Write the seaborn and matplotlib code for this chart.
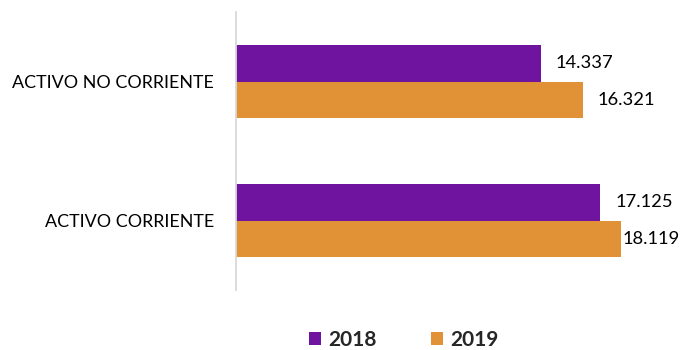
import matplotlib
matplotlib.use("Agg")
import matplotlib.pyplot as plt
import seaborn as sns
import pandas as pd
from matplotlib.patches import Patch

categories = ["ACTIVO NO CORRIENTE", "ACTIVO CORRIENTE"]
years = ["2018", "2019"]
values_2018 = [14337, 17125]
values_2019 = [16321, 18119]

colors = {"2018": "#6F149E", "2019": "#E29236"}

df = pd.DataFrame({
    "categoria": categories * 2,
    "anio": [years[0]] * len(categories) + [years[1]] * len(categories),
    "valor": values_2018 + values_2019,
})

sns.set_theme(style="white")
plt.rcParams["font.family"] = ["Lato", "DejaVu Sans"]

fig = plt.figure(figsize=(6.83, 3.5), dpi=100)
ax = fig.add_axes([0.3455, 0.1714, 0.6222, 0.7943])

sns.barplot(data=df, y="categoria", x="valor", hue="anio", order=categories,
            hue_order=years, palette=colors, orient="h", width=0.52,
            saturation=1, linewidth=0, ax=ax, legend=False)

ax.set_xlim(0, 20000)
ax.set_ylim(1.5, -0.5)
ax.set_xlabel("")
ax.set_ylabel("")
ax.set_xticks([])
for s in ["top", "right", "bottom"]:
    ax.spines[s].set_visible(False)
ax.spines["left"].set_color("#D9D9D9")
ax.spines["left"].set_linewidth(1.3)
ax.tick_params(axis="y", length=0, pad=16, labelsize=12.9, labelcolor="#000000")

# value labels next to each bar
for container in ax.containers:
    for bar in container:
        v = bar.get_width()
        txt = f"{int(round(v)):,}".replace(",", ".")
        off = 1 if v >= 18000 else 11
        ax.annotate(txt, xy=(v, bar.get_y() + bar.get_height() / 2),
                    xytext=(off, 0), textcoords="offset points",
                    ha="left", va="center", fontsize=13.2, color="#000000",
                    annotation_clip=False)

handles = [Patch(facecolor=colors[y], edgecolor="none") for y in years]
fig.legend(handles, years, loc="center", bbox_to_anchor=(0.5915, 0.03),
           ncol=2, frameon=False, handlelength=0.58, handleheight=0.58,
           handletextpad=0.34, columnspacing=2.6,
           prop={"weight": "bold", "size": 15})

fig.savefig("out.png", dpi=100)
